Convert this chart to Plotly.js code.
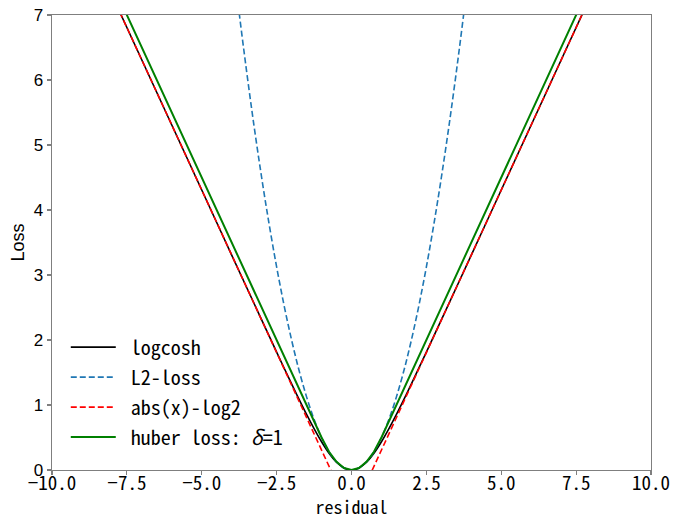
<!DOCTYPE html>
<html>
<head>
<meta charset="utf-8">
<script src="https://cdn.plot.ly/plotly-3.0.1.min.js"></script>
<style>html,body{margin:0;padding:0;background:#fff;}#chart{width:674px;height:519px;}</style>
</head>
<body>
<div id="chart"></div>
<script>
// residual samples and loss values
const logcoshX = [-10, -8, -7, -5, -4, -3, -2.5, -2, -1.75, -1.5, -1.25, -1, -0.75, -0.5, -0.25, 0, 0.25, 0.5, 0.75, 1, 1.25, 1.5, 1.75, 2, 2.5, 3, 4, 5, 7, 8, 10];
const logcoshY = [9.307, 7.307, 6.307, 4.307, 3.307, 2.309, 1.814, 1.325, 1.087, 0.855, 0.636, 0.434, 0.258, 0.120, 0.031, 0, 0.031, 0.120, 0.258, 0.434, 0.636, 0.855, 1.087, 1.325, 1.814, 2.309, 3.307, 4.307, 6.307, 7.307, 9.307];

const l2X = [-4, -3.75, -3.5, -3.25, -3, -2.75, -2.5, -2.25, -2, -1.75, -1.5, -1.25, -1, -0.75, -0.5, -0.25, 0, 0.25, 0.5, 0.75, 1, 1.25, 1.5, 1.75, 2, 2.25, 2.5, 2.75, 3, 3.25, 3.5, 3.75, 4];
const l2Y = [8, 7.03, 6.125, 5.28, 4.5, 3.78, 3.125, 2.53, 2, 1.53, 1.125, 0.78, 0.5, 0.28, 0.125, 0.031, 0, 0.031, 0.125, 0.28, 0.5, 0.78, 1.125, 1.53, 2, 2.53, 3.125, 3.78, 4.5, 5.28, 6.125, 7.03, 8];

const absX = [-10, 0, 10];
const absY = [9.307, -0.693, 9.307];

const huberX = [-10, -1, -0.75, -0.5, -0.25, 0, 0.25, 0.5, 0.75, 1, 10];
const huberY = [9.5, 0.5, 0.28, 0.125, 0.031, 0, 0.031, 0.125, 0.28, 0.5, 9.5];

const seriesNames = ['logcosh', 'L2-loss', 'abs(x)-log2', 'huber loss: <i>δ</i>=1'];
const xTickVals = [-10, -7.5, -5, -2.5, 0, 2.5, 5, 7.5, 10];
const xTickText = ['−10.0', '−7.5', '−5.0', '−2.5', '0.0', '2.5', '5.0', '7.5', '10.0'];
const yTickVals = [0, 1, 2, 3, 4, 5, 6, 7];

const mono = '"Noto Sans Mono CJK SC", "Liberation Mono", "DejaVu Sans Mono", monospace';
const sans = 'Arial, "Liberation Sans", sans-serif';
const pad = '\u00a0';

const traces = [
  {x: logcoshX, y: logcoshY, name: pad + seriesNames[0], mode: 'lines', legendgroup: 'a', line: {color: '#000000', width: 1.6, shape: 'spline'}},
  {x: l2X, y: l2Y, name: pad + seriesNames[1], mode: 'lines', legendgroup: 'b', line: {color: '#1f77b4', width: 1.6, dash: '6px,3px', shape: 'spline'}},
  {x: absX, y: absY, name: pad + seriesNames[2], mode: 'lines', legendgroup: 'c', line: {color: '#ff0000', width: 1.6, dash: '6px,3px'}},
  {x: huberX, y: huberY, name: pad + seriesNames[3], mode: 'lines', legendgroup: 'd', line: {color: '#008000', width: 2}}
];

const axisLine = '#7f7f7f';
const layout = {
  width: 674, height: 519,
  margin: {l: 52, r: 23, t: 15, b: 49},
  paper_bgcolor: '#ffffff', plot_bgcolor: '#ffffff',
  showlegend: true,
  legend: {
    x: 0.023, y: 0.313, xanchor: 'left', yanchor: 'top',
    bgcolor: 'rgba(255,255,255,0)', borderwidth: 0,
    font: {family: mono, size: 20, color: '#000'},
    tracegroupgap: 1, itemwidth: 45, traceorder: 'grouped'
  },
  xaxis: {
    range: [-10, 10], tickmode: 'array', tickvals: xTickVals, ticktext: xTickText,
    showgrid: false, zeroline: false, showline: true, mirror: true,
    linecolor: axisLine, linewidth: 1.4, ticks: 'outside', ticklen: 4, tickcolor: axisLine, tickwidth: 1.2,
    ticklabelstandoff: -8,
    tickfont: {family: mono, size: 19, color: '#000'},
    title: {text: 'residual', font: {family: mono, size: 18, color: '#000'}, standoff: 4}
  },
  yaxis: {
    range: [0, 7], tickmode: 'array', tickvals: yTickVals,
    showgrid: false, zeroline: false, showline: true, mirror: true,
    linecolor: axisLine, linewidth: 1.4, ticks: 'outside', ticklen: 4, tickcolor: axisLine, tickwidth: 1.2,
    tickfont: {family: sans, size: 17, color: '#000'},
    title: {text: 'Loss', font: {family: sans, size: 18, color: '#000'}, standoff: 4}
  }
};

Plotly.newPlot('chart', traces, layout, {displayModeBar: false, staticPlot: true});
</script>
</body>
</html>
